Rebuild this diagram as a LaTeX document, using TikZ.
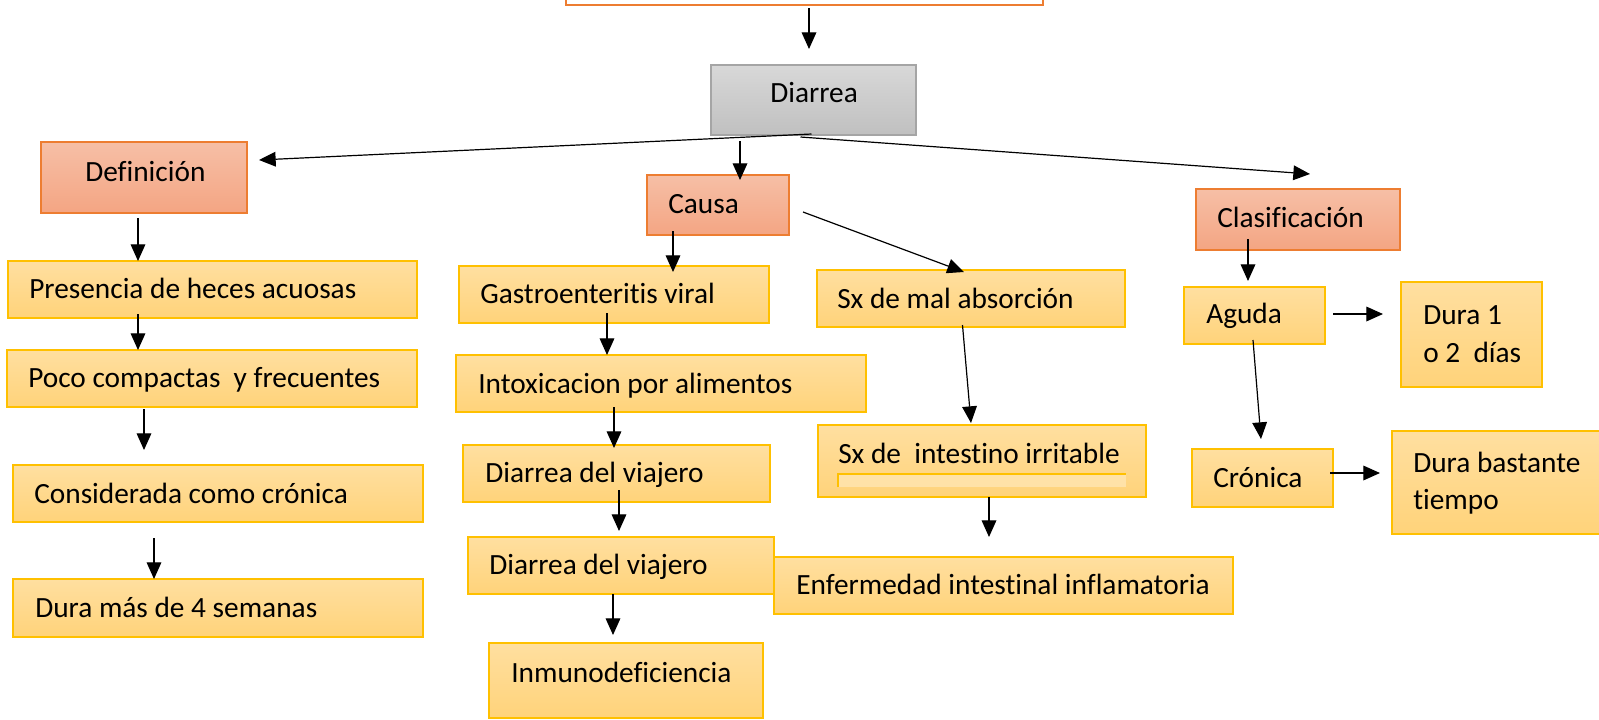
\documentclass[tikz,border=0pt]{standalone}
\usepackage{fontspec}
\setmainfont[Ligatures=NoCommon]{Carlito}
\usetikzlibrary{arrows.meta,calc}
\definecolor{ytop}{HTML}{FFDFA0}
\definecolor{ybot}{HTML}{FFD37A}
\definecolor{ylight}{HTML}{FFE2A8}
\definecolor{ybd}{HTML}{FFC000}
\definecolor{saltop}{HTML}{F6BFA6}
\definecolor{salbot}{HTML}{F4A583}
\definecolor{salbd}{HTML}{ED7D31}
\definecolor{gtop}{HTML}{D8D8D8}
\definecolor{gbot}{HTML}{C0C0C0}
\definecolor{gbd}{HTML}{A5A5A5}
\newcommand\bx[6]{\node[#1, minimum width={(#5-#3)*0.75pt}, minimum height={(#6-#4)*0.75pt}] (#2) at ({(#3+#5)/2},{(#4+#6)/2}) {};}
\begin{document}
\begin{tikzpicture}[x=0.75pt,y=-0.75pt,
  base/.style={rectangle, inner sep=0pt, outer sep=0pt},
  ybox/.style={base, draw=ybd, line width=0.9pt, top color=ytop, bottom color=ybot},
  sbox/.style={base, draw=salbd, line width=0.9pt, top color=saltop, bottom color=salbot},
  gbox/.style={base, draw=gbd, line width=0.9pt, top color=gtop, bottom color=gbot},
  topbox/.style={base, draw=salbd, line width=1.9pt, fill=white},
  txt/.style={inner sep=0pt, font=\fontsize{22}{28}\selectfont, text=black},
  arr/.style={-{Triangle[length=12.5pt,width=11pt]}, line width=0.9pt, black}]
\useasboundingbox (0,0) rectangle (1599,719);
\clip (0,0) rectangle (1599,719);

% boxes
\bx{topbox}{top}{566}{-30}{1043}{5}
\bx{gbox}{D}{711}{65}{916}{135}
\bx{sbox}{Def}{41}{142}{247}{213}
\bx{sbox}{C}{647}{175}{789}{235}
\bx{sbox}{Cl}{1196}{189}{1400}{250}
\bx{ybox}{Pres}{8}{261}{417}{318}
\bx{ybox}{Poco}{7}{350}{417}{407}
\bx{ybox}{Cons}{13}{465}{423}{522}
\bx{ybox}{Dm}{13}{579}{423}{637}
\bx{ybox}{G}{459}{266}{769}{323}
\bx{ybox}{I}{456}{355}{866}{412}
\bx{ybox}{DVa}{463}{445}{770}{502}
\bx{ybox}{DVb}{468}{537}{774}{594}
\bx{ybox}{Inm}{489}{643}{763}{718}
\bx{ybox}{Sm}{817}{270}{1125}{327}
\bx{ybox}{Si}{818}{425}{1146}{497}
\bx{ybox}{Enf}{774}{557}{1233}{614}
\bx{ybox}{Ag}{1184}{287}{1325}{344}
\bx{ybox}{Da}{1401}{282}{1542}{387}
\bx{ybox}{Cr}{1192}{449}{1333}{507}
\bx{ybox}{Db}{1392}{431}{1612}{534}

% inner field inside "Sx de intestino irritable"
\fill[ylight] (838,474) rectangle (1126,487);
\draw[ybd, line width=0.9pt] (838,487) -- (838,474) -- (1126,474);

% texts
\node[txt, anchor=base west] (Dt) at (770,102) {Diarrea};
\node[txt, anchor=base west] (Deft) at (85,181) {Definición};
\node[txt, anchor=base west] (Ct) at (668,213) {Causa};
\node[txt, anchor=base west] (Clt) at (1217,227) {Clasificación};
\node[txt, anchor=base west] (Prest) at (29,298) {Presencia de heces acuosas};
\node[txt, anchor=base west] (Pocot) at (28,387) {Poco compactas\ \ y frecuentes};
\node[txt, anchor=base west] (Const) at (34,503) {Considerada como crónica};
\node[txt, anchor=base west] (Dmt) at (35,617) {Dura más de 4 semanas};
\node[txt, anchor=base west] (Gt) at (480,303) {Gastroenteritis viral};
\node[txt, anchor=base west] (It) at (478,393) {Intoxicacion por alimentos};
\node[txt, anchor=base west] (DVat) at (485,482) {Diarrea del viajero};
\node[txt, anchor=base west] (DVbt) at (489,574) {Diarrea del viajero};
\node[txt, anchor=base west] (Inmt) at (511,682) {Inmunodeficiencia};
\node[txt, anchor=base west] (Smt) at (837,308) {Sx de mal absorción};
\node[txt, anchor=base west] (Sit) at (838,463) {Sx de\ \ intestino irritable};
\node[txt, anchor=base west] (Enft) at (796,594) {Enfermedad intestinal inflamatoria};
\node[txt, anchor=base west] (Agt) at (1206,323) {Aguda};
\node[txt, anchor=west, align=left] (Dat) at (1423,334) {Dura 1\\o 2\ \ días};
\node[txt, anchor=base west] (Crt) at (1213,487) {Crónica};
\node[txt, anchor=west, align=left] (Dbt) at (1413,483) {Dura bastante\\tiempo};

% connectors
\draw[arr, shorten <=2.25pt, shorten >=12pt] (top.south -| 809,0) -- (D.north -| 809,0);
\draw[arr] ($(D.south)+(-2,-1)$) -- ($(Def.north east)+(12,18)$);
\draw[arr] ($(D.south -| 740,0)+(0,6)$) -- ($(C.north -| 740,0)+(0,5)$);
\draw[arr] ($(D.south)+(-13,2)$) -- ($(Cl.north west)+(114,-15)$);

\draw[arr, shorten <=3.75pt] (Def.south -| 138,0) -- (Pres.north -| 138,0);
\draw[arr] ($(Pres.south -| 138,0)+(0,-4)$) -- (Poco.north -| 138,0);
\draw[arr, shorten <=1.5pt, shorten >=11.25pt] (Poco.south -| 144,0) -- (Cons.north -| 144,0);
\draw[arr, shorten <=12pt] (Cons.south -| 154,0) -- (Dm.north -| 154,0);

\draw[arr] ($(C.south -| 673,0)+(0,-4)$) -- ($(G.north -| 673,0)+(0,6)$);
\draw[arr] ($(C.east)+(14,7)$) -- ($(Sm.north west)+(147,2)$);
\draw[arr] ($(G.south -| 607,0)+(0,-10)$) -- (I.north -| 607,0);
\draw[arr] ($(I.south -| 614,0)+(0,-5)$) -- ($(DVa.north -| 614,0)+(0,3)$);
\draw[arr, shorten >=4.5pt] ($(DVa.south -| 619,0)+(0,-12)$) -- (DVb.north -| 619,0);
\draw[arr, shorten >=6pt] (DVb.south -| 613,0) -- (Inm.north -| 613,0);

\draw[arr] ($(Sm.south)+(-8.5,-2)$) -- ($(Si.north)+(-11,-2)$);
\draw[arr, shorten >=15pt] (Si.south -| 989,0) -- (Enf.north -| 989,0);

\draw[arr, shorten >=4.5pt] ($(Cl.south -| 1248,0)+(0,-11)$) -- (Ag.north -| 1248,0);
\draw[arr, shorten <=6pt, shorten >=13.5pt] (Ag.east |- 0,314) -- (Da.west |- 0,314);
\draw[arr] ($(Ag.south)+(-1.5,-4)$) -- ($(Cr.north)+(-1.5,-10)$);
\draw[arr, shorten >=9pt] ($(Cr.east |- 0,473)+(-3,0)$) -- (Db.west |- 0,473);
\end{tikzpicture}
\end{document}
